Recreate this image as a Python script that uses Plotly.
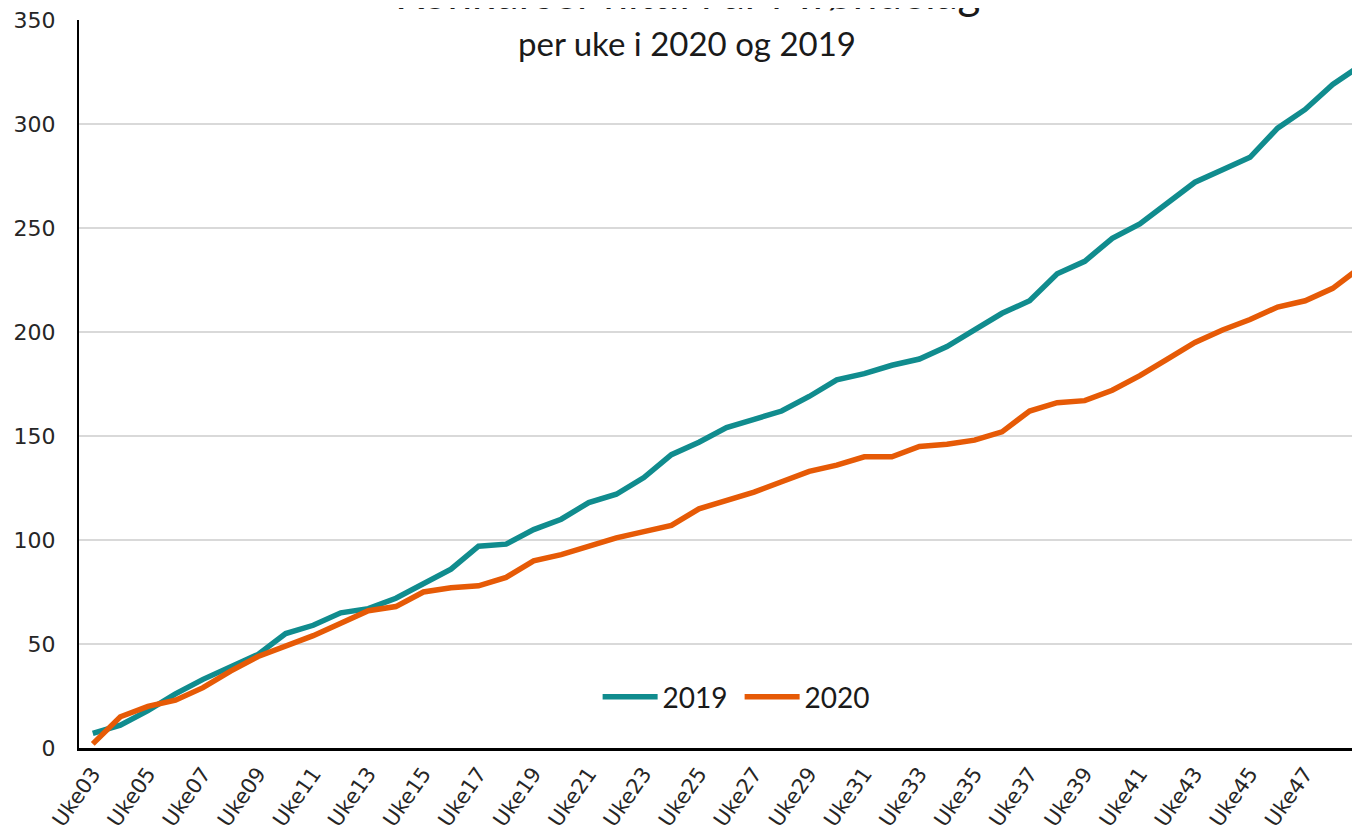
import plotly.graph_objects as go

weeks = ["Uke%02d" % w for w in range(3, 50)]
y2019 = [7, 11, 18, 26, 33, 39, 45, 55, 59, 65, 67, 72, 79, 86, 97, 98, 105,
         110, 118, 122, 130, 141, 147, 154, 158, 162, 169, 177, 180, 184, 187,
         193, 201, 209, 215, 228, 234, 245, 252, 262, 272, 278, 284, 298, 307,
         319, 328]
y2020 = [2, 15, 20, 23, 29, 37, 44, 49, 54, 60, 66, 68, 75, 77, 78, 82, 90,
         93, 97, 101, 104, 107, 115, 119, 123, 128, 133, 136, 140, 140, 145,
         146, 148, 152, 162, 166, 167, 172, 179, 187, 195, 201, 206, 212, 215,
         221, 231]
tick_labels = weeks[::2]

title_text = "Konkurser hittil i år i Trøndelag"
subtitle_text = "per uke i 2020 og 2019"

fig = go.Figure()
fig.add_trace(go.Scatter(x=weeks, y=y2019, mode="lines", name="2019",
                         line=dict(color="#108C8E", width=5.5)))
fig.add_trace(go.Scatter(x=weeks, y=y2020, mode="lines", name="2020",
                         line=dict(color="#E65A06", width=5.5)))

fig.update_layout(
    width=1344, height=819,
    margin=dict(l=71, r=0, t=12, b=79),
    paper_bgcolor="white", plot_bgcolor="white",
    showlegend=True,
    legend=dict(orientation="h", x=0.4074, y=0.07, xanchor="left", yanchor="middle",
                font=dict(family="Lato", size=28, color="#1a1a1a"),
                bgcolor="rgba(0,0,0,0)", itemwidth=55, tracegroupgap=0,
                entrywidth=72, entrywidthmode="pixels"),
    annotations=[
        dict(text=title_text, xref="paper", yref="paper", x=0.478, y=1.0385,
             xanchor="center", yanchor="middle", showarrow=False,
             font=dict(family="Lato", size=44, color="#1a1a1a")),
        dict(text=subtitle_text, xref="paper", yref="paper", x=0.478, y=0.968,
             xanchor="center", yanchor="middle", showarrow=False,
             font=dict(family="Lato", size=33, color="#1a1a1a")),
    ],
)
fig.update_xaxes(
    type="category", range=[-0.5, 45.7],
    tickmode="array", tickvals=tick_labels, ticktext=tick_labels,
    tickangle=-55, tickfont=dict(family="DejaVu Sans", size=21, color="#262626"),
    showgrid=False, showline=True, linecolor="#000000", linewidth=3,
    ticks="", ticklabelstandoff=2, automargin=False, zeroline=False,
)
fig.update_yaxes(
    range=[0, 350], dtick=50, tick0=0,
    tickfont=dict(family="DejaVu Sans", size=22, color="#262626"),
    showgrid=True, gridcolor="#d9d9d9", gridwidth=2,
    showline=True, linecolor="#000000", linewidth=2,
    ticks="", ticklabelstandoff=17, ticklabeloverflow="allow",
    automargin=False, zeroline=False,
)

fig.write_html("out.html")
